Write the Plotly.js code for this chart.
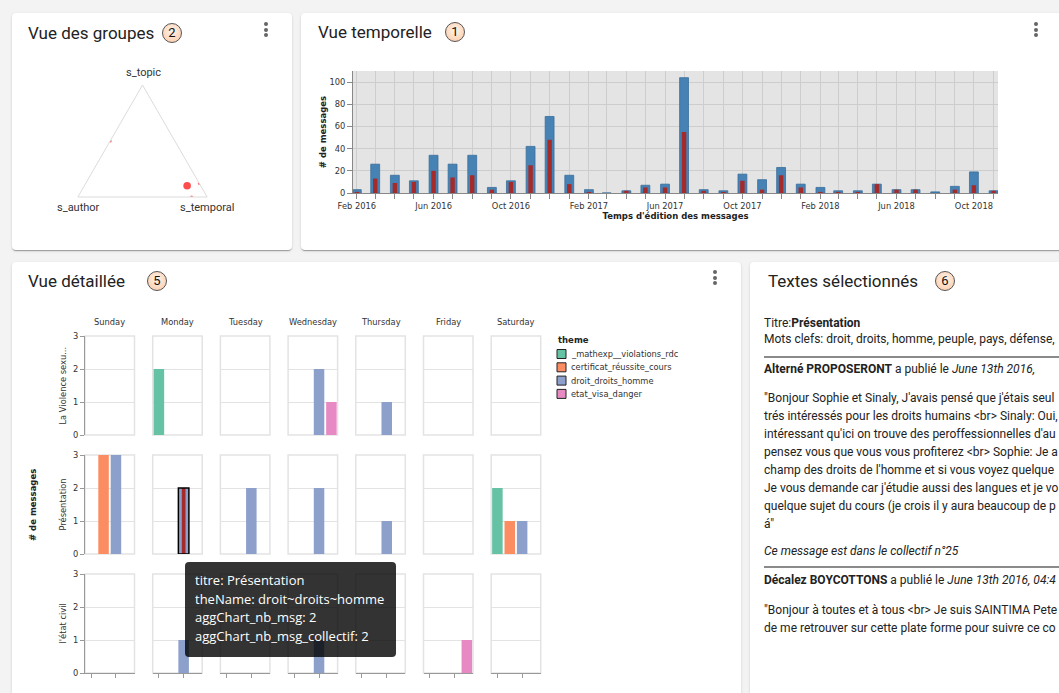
<!DOCTYPE html>
<html>
<head>
<meta charset="utf-8">
<script src="https://cdn.plot.ly/plotly-3.0.1.min.js"></script>
<style>
html,body{margin:0;padding:0;width:1059px;height:693px;overflow:hidden;background:#f3f3f3;font-family:Roboto,"Noto Sans",sans-serif;}
.card{position:absolute;background:#fff;border-radius:4px;box-shadow:0 2px 1px -1px rgba(0,0,0,.2),0 1px 1px 0 rgba(0,0,0,.14),0 1px 3px 0 rgba(0,0,0,.12);}
.title{position:absolute;font-size:17px;color:#222;line-height:20px;white-space:nowrap;}
.badge{position:absolute;width:18px;height:18px;border-radius:50%;border:1px solid #555;background:radial-gradient(circle at 50% 40%,#fff4ec 0%,#fbc7a0 100%);font-size:13px;line-height:18px;text-align:center;color:#111;}
.kebab{position:absolute;width:4px;}
.kebab i{display:block;width:4px;height:4px;border-radius:50%;background:#666;margin-bottom:1.5px;}
#plot{position:absolute;left:0;top:0;width:1059px;height:693px;}
.tip{position:absolute;left:185px;top:562px;width:191px;height:81px;padding:9px 10px 5px 10px;background:rgba(0,0,0,0.8);border-radius:4px;color:#fff;font-family:"Open Sans","Noto Sans",sans-serif;font-size:13px;line-height:18.7px;white-space:nowrap;}
.tx{position:absolute;left:764px;font-size:12px;color:#222;white-space:nowrap;}
.hr{position:absolute;left:764px;width:295px;height:2px;background:#8a8a8a;}
</style>
</head>
<body>
<div class="card" style="left:12px;top:13px;width:280px;height:237px;"></div>
<div class="card" style="left:301px;top:13px;width:780px;height:237px;"></div>
<div class="card" style="left:12px;top:262px;width:729px;height:460px;"></div>
<div class="card" style="left:750px;top:262px;width:340px;height:460px;"></div>

<div class="title" style="left:28px;top:23px;">Vue des groupes</div>
<div class="badge" style="left:162px;top:23px;">2</div>
<div class="kebab" style="left:264px;top:22px;"><i></i><i></i><i></i></div>

<div class="title" style="left:318px;top:22px;">Vue temporelle</div>
<div class="badge" style="left:445px;top:22px;">1</div>
<div class="kebab" style="left:1034px;top:22px;"><i></i><i></i><i></i></div>

<div class="title" style="left:28px;top:271px;">Vue détaillée</div>
<div class="badge" style="left:147px;top:271px;">5</div>
<div class="kebab" style="left:713px;top:270px;"><i></i><i></i><i></i></div>

<div class="title" style="left:768px;top:271px;">Textes sélectionnés</div>
<div class="badge" style="left:935px;top:271px;">6</div>

<div class="tx" style="top:315px;line-height:16px;">Titre:<b>Présentation</b></div>
<div class="tx" style="top:331px;line-height:16px;">Mots clefs: droit, droits, homme, peuple, pays, défense,</div>
<div class="hr" style="top:356px;"></div>
<div class="tx" style="top:361px;line-height:16px;"><b>Alterné PROPOSERONT</b> a publié le <i>June 13th 2016,</i></div>
<div class="tx" style="top:389px;line-height:18px;">"Bonjour Sophie et Sinaly, J'avais pensé que j'étais seul<br>trés intéressés pour les droits humains &lt;br&gt; Sinaly: Oui,<br>intéressant qu'ici on trouve des peroffessionnelles d'au<br>pensez vous que vous vous profiterez &lt;br&gt; Sophie: Je a<br>champ des droits de l'homme et si vous voyez quelque<br>Je vous demande car j'étudie aussi des langues et je vo<br>quelque sujet du cours (je crois il y aura beaucoup de p<br>á"</div>
<div class="tx" style="top:543px;line-height:16px;"><i>Ce message est dans le collectif n°25</i></div>
<div class="hr" style="top:566px;"></div>
<div class="tx" style="top:572px;line-height:16px;"><b>Décalez BOYCOTTONS</b> a publié le <i>June 13th 2016, 04:4</i></div>
<div class="tx" style="top:601px;line-height:18px;">"Bonjour à toutes et à tous &lt;br&gt; Je suis SAINTIMA Pete<br>de me retrouver sur cette plate forme pour suivre ce co</div>

<div id="plot"></div>
<div class="tip">titre: Présentation<br>theName: droit~droits~homme<br>aggChart_nb_msg: 2<br>aggChart_nb_msg_collectif: 2</div>

<script>
// ---------- DATA ----------
// Vue des groupes (ternary)
const axisNames     = ['s_topic', 's_author', 's_temporal'];
const groupTopic    = [0.10, 0.50, 0.12, 0.00];
const groupAuthor   = [0.105, 0.50, 0.00, 0.12];
const groupTemporal = [0.795, 0.00, 0.88, 0.88];
const groupSize     = [12, 2, 2, 2];

// Vue temporelle
const months = ['2016-02-01','2016-03-01','2016-04-01','2016-05-01','2016-06-01','2016-07-01','2016-08-01','2016-09-01','2016-10-01','2016-11-01','2016-12-01',
  '2017-01-01','2017-02-01','2017-03-01','2017-04-01','2017-05-01','2017-06-01','2017-07-01','2017-08-01','2017-09-01','2017-10-01','2017-11-01','2017-12-01',
  '2018-01-01','2018-02-01','2018-03-01','2018-04-01','2018-05-01','2018-06-01','2018-07-01','2018-08-01','2018-09-01','2018-10-01','2018-11-01'];
const nbMsg          = [3,26,16,11,34,26,34,5,11,42,69, 16,3,0,2,7,8,104,3,2,17,12,23, 8,5,2,2,8,3,3,1,6,19,2];
const nbMsgCollectif = [1,13,9,10,20,14,16,3,10,25,48, 8,1,0,2,5,5,55,2,1,11,3,16, 5,1,1,1,8,3,3,0,3,7,2];

// Vue détaillée
const days = ['Sunday','Monday','Tuesday','Wednesday','Thursday','Friday','Saturday'];
const titres = ['La Violence sexu...','Présentation',"l'état civil"];
const themes = ['_mathexp__violations_rdc','certificat_réussite_cours','droit_droits_homme','etat_visa_danger'];
const themeColors = ['#66c2a5','#fc8d62','#8da0cb','#e78ac3'];
// per day: counts per theme
const violenceSexu = [[0,0,0,0],[2,0,0,0],[0,0,0,0],[0,0,2,1],[0,0,1,0],[0,0,0,0],[0,0,0,0]];
const presentation = [[0,3,3,0],[0,0,2,0],[0,0,2,0],[0,0,2,0],[0,0,1,0],[0,0,0,0],[2,1,1,0]];
const etatCivil    = [[0,0,0,0],[0,0,1,0],[0,0,0,0],[0,0,1,0],[0,0,0,0],[0,0,0,1],[0,0,0,0]];
const selTitre = 'Présentation', selDay = 'Monday', selTheme = 'droit_droits_homme', selCollectif = 2;

// ---------- LAYOUT HELPERS ----------
const W = 1059, H = 693;
const fx = p => p / W;
const fy = p => 1 - p / H;
const FONT = 'DejaVu Sans';
const FS = 8.3;

const traces = [];
const layout = {
  width: W, height: H,
  margin: {l:0, r:0, t:0, b:0},
  paper_bgcolor: 'rgba(0,0,0,0)',
  plot_bgcolor: 'rgba(0,0,0,0)',
  showlegend: false,
  barmode: 'overlay',
  font: {family: FONT, size: FS, color: '#333'},
  annotations: [],
  shapes: []
};

// ---------- TERNARY ----------
const ternAxis = {showticklabels: false, showgrid: false, ticks: '', linecolor: '#dcdcdc', linewidth: 1, title: {text: ''}};
layout.ternary = {
  domain: {x: [fx(76), fx(209)], y: [fy(197), fy(85)]},
  bgcolor: 'rgba(0,0,0,0)',
  sum: 1,
  aaxis: JSON.parse(JSON.stringify(ternAxis)),
  baxis: JSON.parse(JSON.stringify(ternAxis)),
  caxis: JSON.parse(JSON.stringify(ternAxis))
};
[[143, 73], [78, 207], [207, 207]].forEach((p, i) => {
  layout.annotations.push({text: axisNames[i], xref: 'paper', yref: 'paper', x: fx(p[0]), y: fy(p[1]),
    xanchor: 'center', yanchor: 'middle', showarrow: false, font: {family: 'Roboto', size: 11, color: '#333'}});
});
traces.push({
  type: 'scatterternary', mode: 'markers',
  a: groupTopic, b: groupAuthor, c: groupTemporal,
  marker: {size: groupSize.map(s => 2.2 * Math.sqrt(s)), color: groupSize.map(s => s > 2 ? '#ff0000' : '#ff3030'), line: {width: 0}},
  hoverinfo: 'skip'
});

// ---------- TIME CHART ----------
layout.xaxis = {
  domain: [fx(353), fx(998)], anchor: 'y', type: 'date',
  range: ['2016-01-26', '2018-11-08'],
  tick0: '2016-02-01', dtick: 'M4', tickformat: '%b %Y',
  showgrid: true, gridcolor: '#cdcdcd', gridwidth: 1,
  ticks: 'outside', ticklen: 5, tickcolor: '#888',
  minor: {dtick: 'M1', tick0: '2016-02-01', showgrid: true, gridcolor: '#cdcdcd', gridwidth: 1, ticks: 'outside', ticklen: 5, tickcolor: '#888'},
  showline: true, linecolor: '#888', zeroline: false,
  tickfont: {family: FONT, size: FS, color: '#333'},
  title: {text: "<b>Temps d'édition des messages</b>", font: {family: FONT, size: 8.5, color: '#222'}, standoff: 3}
};
layout.yaxis = {
  domain: [fy(193), fy(71)], anchor: 'x',
  range: [0, 110], dtick: 20,
  showgrid: true, gridcolor: '#cdcdcd', gridwidth: 1,
  ticks: 'outside', ticklen: 5, tickcolor: '#888',
  showline: true, linecolor: '#888', zeroline: false,
  tickfont: {family: FONT, size: FS, color: '#333'},
  title: {text: '<b># de messages</b>', font: {family: FONT, size: 8.5, color: '#222'}, standoff: 1}
};
layout.shapes.push({type: 'rect', xref: 'x domain', yref: 'y domain', x0: 0, x1: 1, y0: 0, y1: 1, fillcolor: '#e4e4e4', line: {width: 0}, layer: 'below'});
const DAY = 86400000;
traces.push({type: 'bar', x: months, y: nbMsg, xaxis: 'x', yaxis: 'y', width: 14 * DAY,
  marker: {color: '#4682b4', line: {color: '#3a6f9c', width: 0.8}}, hoverinfo: 'skip'});
traces.push({type: 'bar', x: months, y: nbMsgCollectif, xaxis: 'x', yaxis: 'y', width: 7 * DAY,
  marker: {color: '#a52a2a', line: {width: 0}}, hoverinfo: 'skip'});

// ---------- FACET CHART ----------
const rowsData = [violenceSexu, presentation, etatCivil];
const PX0 = 85, PSTEP = 67.7, PW = 49.5, PY0 = 336, PYSTEP = 119, PH = 99;
rowsData.forEach((rowData, r) => {
  days.forEach((day, c) => {
    const idx = r * 7 + c + 2;
    const xa = 'xaxis' + idx, ya = 'yaxis' + idx;
    const x0 = PX0 + c * PSTEP, y0 = PY0 + r * PYSTEP;
    const isLeft = c === 0, isBottom = r === rowsData.length - 1;
    layout[xa] = {
      domain: [fx(x0), fx(x0 + PW)], anchor: 'y' + idx, type: 'category',
      categoryorder: 'array', categoryarray: themes, range: [-0.5, 3.5],
      showticklabels: false, showgrid: false, zeroline: false,
      showline: isBottom, linecolor: '#999', linewidth: 1,
      ticks: isBottom ? 'outside' : '', ticklen: 4, tickcolor: '#999'
    };
    layout[ya] = {
      domain: [fy(y0 + PH), fy(y0)], anchor: 'x' + idx,
      range: [0, 3], dtick: 1, showgrid: true, gridcolor: '#e3e3e3', gridwidth: 1, zeroline: false,
      showticklabels: isLeft, ticks: isLeft ? 'outside' : '', ticklen: 4, tickcolor: '#999',
      showline: isLeft, linecolor: '#999', linewidth: 1,
      tickfont: {family: FONT, size: FS, color: '#333'}
    };
    layout.shapes.push({type: 'rect', xref: 'x' + idx + ' domain', yref: 'y' + idx + ' domain', x0: 0, x1: 1, y0: 0, y1: 1,
      fillcolor: 'rgba(0,0,0,0)', line: {color: '#e3e3e3', width: 1.5}, layer: 'below'});
    const vals = rowData[c];
    traces.push({type: 'bar', x: themes, y: vals, xaxis: 'x' + idx, yaxis: 'y' + idx, width: 0.85,
      marker: {color: themeColors, line: {width: 0}}, hoverinfo: 'skip'});
    if (titres[r] === selTitre && day === selDay) {
      const t = themes.indexOf(selTheme);
      traces.push({type: 'bar', x: [selTheme], y: [selCollectif], xaxis: 'x' + idx, yaxis: 'y' + idx, width: 0.3,
        marker: {color: '#a52a2a', line: {width: 0}}, hoverinfo: 'skip'});
      traces.push({type: 'bar', x: [selTheme], y: [vals[t]], xaxis: 'x' + idx, yaxis: 'y' + idx, width: 0.85,
        marker: {color: 'rgba(0,0,0,0)', line: {color: '#000', width: 1.5}}, hoverinfo: 'skip'});
    }
  });
});
// day headers
days.forEach((day, c) => {
  layout.annotations.push({text: day, xref: 'paper', yref: 'paper', x: fx(PX0 + c * PSTEP + PW / 2), y: fy(322),
    xanchor: 'center', yanchor: 'middle', showarrow: false, font: {family: FONT, size: FS, color: '#333'}});
});
// row labels
titres.forEach((t, r) => {
  layout.annotations.push({text: t, xref: 'paper', yref: 'paper', x: fx(62), y: fy(PY0 + r * PYSTEP + PH / 2),
    xanchor: 'center', yanchor: 'middle', textangle: -90, showarrow: false, font: {family: FONT, size: FS, color: '#333'}});
});
layout.annotations.push({text: '<b># de messages</b>', xref: 'paper', yref: 'paper', x: fx(33), y: fy(505),
  xanchor: 'center', yanchor: 'middle', textangle: -90, showarrow: false, font: {family: FONT, size: 8.5, color: '#222'}});
// legend
layout.annotations.push({text: '<b>theme</b>', xref: 'paper', yref: 'paper', x: fx(556), y: fy(340),
  xanchor: 'left', yanchor: 'middle', showarrow: false, font: {family: FONT, size: 8.5, color: '#222'}});
themes.forEach((th, i) => {
  const cy = 354 + i * 13.3;
  layout.shapes.push({type: 'rect', xref: 'paper', yref: 'paper', x0: fx(557), x1: fx(566), y0: fy(cy + 4.5), y1: fy(cy - 4.5),
    fillcolor: themeColors[i], line: {color: '#222', width: 1}});
  layout.annotations.push({text: th, xref: 'paper', yref: 'paper', x: fx(569), y: fy(cy),
    xanchor: 'left', yanchor: 'middle', showarrow: false, font: {family: FONT, size: FS, color: '#333'}});
});

Plotly.newPlot('plot', traces, layout, {displayModeBar: false, staticPlot: true});
</script>
</body>
</html>
